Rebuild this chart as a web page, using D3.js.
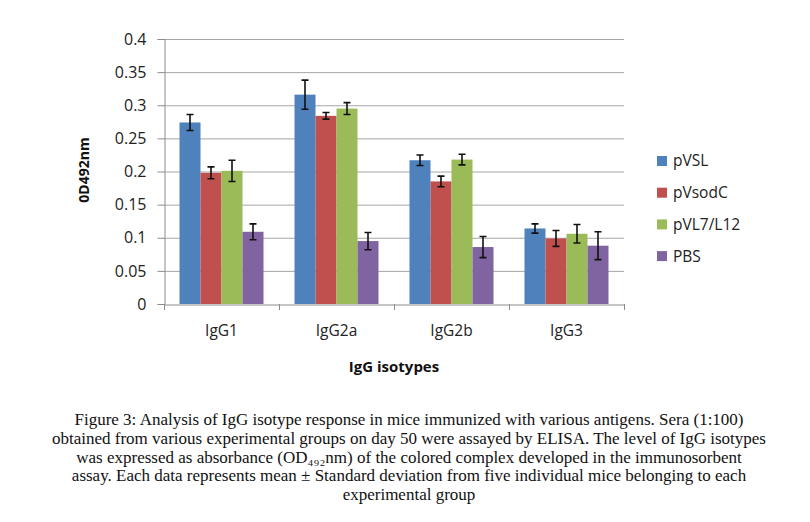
<!DOCTYPE html>
<html><head><meta charset="utf-8">
<script src="https://cdn.jsdelivr.net/npm/d3@7"></script>
<style>body{margin:0;background:#fff}svg{display:block}</style>
</head><body>
<svg id="c" width="810" height="522"></svg>
<script>
const categories = ["IgG1","IgG2a","IgG2b","IgG3"];
const seriesNames = ["pVSL","pVsodC","pVL7/L12","PBS"];
const seriesColors = ["#4F81BD","#C0504D","#9BBB59","#8064A2"];
const pVSL     = [0.274, 0.316, 0.217, 0.114];
const pVsodC   = [0.198, 0.284, 0.185, 0.099];
const pVL7L12  = [0.201, 0.295, 0.218, 0.106];
const PBS      = [0.109, 0.095, 0.086, 0.088];
const errPVSL    = [0.012, 0.022, 0.008, 0.007];
const errPVsodC  = [0.009, 0.005, 0.008, 0.012];
const errPVL7L12 = [0.016, 0.009, 0.008, 0.014];
const errPBS     = [0.012, 0.013, 0.016, 0.021];
const yTicks = [0,0.05,0.1,0.15,0.2,0.25,0.3,0.35,0.4];
const captionLines = [
  "Figure 3: Analysis of IgG isotype response in mice immunized with various antigens. Sera (1:100)",
  "obtained from various experimental groups on day 50 were assayed by ELISA. The level of IgG isotypes",
  "was expressed as absorbance (OD\u2084\u2089\u2082nm) of the colored complex developed in the immunosorbent",
  "assay. Each data represents mean \u00b1 Standard deviation from five individual mice belonging to each",
  "experimental group"
];

const values = [pVSL, pVsodC, pVL7L12, PBS];
const errs = [errPVSL, errPVsodC, errPVL7L12, errPBS];

const svg = d3.select("#c");
const L = 164, R = 624, T = 39, B = 304;
const x0 = d3.scaleBand().domain(categories).range([L, R]).padding(0);
const gap = 31;
const x1 = d3.scaleBand().domain(seriesNames).range([gap/2, x0.bandwidth()-gap/2]).padding(0);
const y = d3.scaleLinear().domain([0,0.4]).range([B, T]);
const sansFont = "'Open Sans','DejaVu Sans',sans-serif";

// gridlines
svg.append("g").selectAll("line").data(yTicks.filter(d=>d>0)).join("line")
  .attr("x1", L).attr("x2", R).attr("y1", d=>y(d)+0.5).attr("y2", d=>y(d)+0.5)
  .attr("stroke", "#a6a6a6").attr("stroke-width", 1);

// y axis
const yAxis = svg.append("g").attr("transform", `translate(${L+0.5},0)`)
  .call(d3.axisLeft(y).tickValues(yTicks).tickSize(7).tickPadding(11).tickFormat(d=>String(+d.toFixed(2))));
yAxis.select(".domain").attr("stroke", "#8c8c8c");
yAxis.selectAll(".tick line").attr("stroke", "#8c8c8c");
yAxis.selectAll(".tick text").attr("font-family", sansFont).attr("font-size", 16).attr("fill", "#222");

// bars
const groups = svg.append("g").selectAll("g").data(categories).join("g")
  .attr("transform", c => `translate(${x0(c)},0)`);
groups.each(function(c, ci){
  const g = d3.select(this);
  seriesNames.forEach((s, si) => {
    const v = values[si][ci];
    g.append("rect").attr("x", x1(s)).attr("width", x1.bandwidth())
      .attr("y", y(v)).attr("height", B - y(v)).attr("fill", seriesColors[si]);
  });
});

// x axis
const xAxis = svg.append("g").attr("transform", `translate(0,${B+0.5})`)
  .call(d3.axisBottom(x0).tickSize(0).tickPadding(20));
xAxis.select(".domain").attr("stroke", "#8c8c8c");
xAxis.selectAll(".tick text").attr("font-family", sansFont).attr("font-size", 15.5).attr("fill", "#222");
svg.append("g").selectAll("line").data(d3.range(categories.length+1)).join("line")
  .attr("x1", i => L + i*x0.step() + 0.5).attr("x2", i => L + i*x0.step() + 0.5)
  .attr("y1", B).attr("y2", B+6).attr("stroke", "#8c8c8c");

// error bars
groups.each(function(c, ci){
  const g = d3.select(this);
  seriesNames.forEach((s, si) => {
    const v = values[si][ci], e = errs[si][ci];
    const cx = x1(s) + x1.bandwidth()/2;
    const path = d3.path();
    path.moveTo(cx, y(v+e)); path.lineTo(cx, y(v-e));
    path.moveTo(cx-3.5, y(v+e)); path.lineTo(cx+3.5, y(v+e));
    path.moveTo(cx-3.5, y(v-e)); path.lineTo(cx+3.5, y(v-e));
    g.append("path").attr("d", path.toString()).attr("stroke", "#111").attr("stroke-width", 1.6).attr("fill", "none");
  });
});

// axis titles
svg.append("text").attr("transform", `translate(89,170) rotate(-90)`).attr("text-anchor", "middle")
  .attr("font-family", sansFont).attr("font-weight", "bold").attr("font-size", 14).attr("fill", "#111")
  .text("0D492nm");
svg.append("text").attr("x", (L+R)/2).attr("y", 372).attr("text-anchor", "middle")
  .attr("font-family", sansFont).attr("font-weight", "bold").attr("font-size", 15).attr("fill", "#111")
  .text("IgG isotypes");

// legend
const lg = svg.append("g").selectAll("g").data(seriesNames).join("g")
  .attr("transform", (d,i) => `translate(657,${161 + i*31.7})`);
lg.append("rect").attr("x", 0).attr("y", -5).attr("width", 10).attr("height", 10)
  .attr("fill", (d,i) => seriesColors[i]);
lg.append("text").attr("x", 16).attr("y", 0).attr("dy", "0.35em")
  .attr("font-family", sansFont).attr("font-size", 15.5).attr("fill", "#222").text(d => d);

// caption
svg.append("g").selectAll("text").data(captionLines).join("text")
  .attr("x", 409).attr("y", (d,i) => 425 + i*18.8).attr("text-anchor", "middle")
  .attr("font-family", "'Liberation Serif','DejaVu Serif',serif").attr("font-size", 17).attr("fill", "#111")
  .text(d => d);
</script>
</body></html>
